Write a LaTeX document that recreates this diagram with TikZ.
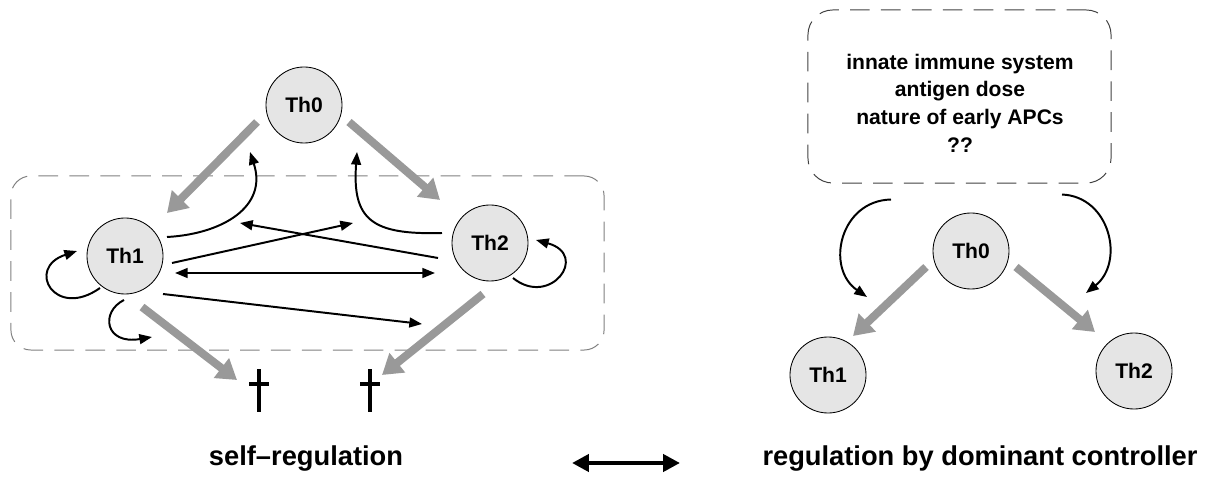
\documentclass[tikz,border=0pt]{standalone}
\usepackage{fontspec}
\setmainfont{Liberation Sans}
\usetikzlibrary{arrows.meta}
\tikzstyle{cell} = [circle, minimum size=1.9cm, inner sep=0pt, draw=black, line width=0.6pt, fill=gray!20, font=\fontsize{15}{18}\selectfont\bfseries]
\tikzstyle{region} = [rectangle, draw=gray, line width=0.7pt, dash pattern=on 14pt off 8pt]
\tikzstyle{diff} = [line width=5.7pt, draw=gray!80, -{Triangle[length=14pt,width=17pt]}]
\tikzstyle{act} = [line width=1.4pt, -{Triangle[length=9pt,width=7pt]}]
\tikzstyle{mutual} = [line width=1.4pt, {Triangle[length=9pt,width=7pt]}-{Triangle[length=9pt,width=7pt]}]
\tikzstyle{caption} = [font=\fontsize{19.4}{23}\selectfont\bfseries, anchor=base]
\tikzstyle{factors} = [font=\fontsize{15}{19.7}\selectfont\bfseries, align=center]
\tikzstyle{cross} = [line width=3.5pt]
\begin{document}
\begin{tikzpicture}[x=0.025cm, y=-0.025cm]
      \useasboundingbox (0,0) rectangle (1210,478);
      % self-regulation
      \node (selfbox)[region, rounded corners=0.5cm, minimum width=14.825cm, minimum height=4.35cm] at (307.5,263) {};
      \node (th0L)[cell] at (304,105) {Th0};
      \node (th1L)[cell] at (125,256) {Th1};
      \node (th2L)[cell] at (490,243) {Th2};
      \coordinate (dead1) at (259,389);
      \coordinate (dead2) at (370,389);
      \foreach \d in {dead1,dead2} {
        \draw[cross] ([shift={(0,-20)}]\d) -- ([shift={(0,23)}]\d);
        \draw[cross, line width=3pt] ([shift={(-10,-5)}]\d) -- ([shift={(10,-5)}]\d);
      }
      \draw[diff] ([shift={(-47,17)}]th0L.center) -- ([shift={(42,-43)}]th1L.center);
      \draw[diff] ([shift={(45,17)}]th0L.center) -- ([shift={(-50,-43)}]th2L.center);
      \draw[diff] ([shift={(17,51)}]th1L.center) -- ([shift={(-22,-9)}]dead1);
      \draw[diff] ([shift={(-7,51)}]th2L.center) -- ([shift={(12,-14)}]dead2);
      \draw[act] ([shift={(42,-19)}]th1L.center) .. controls +(55,-3) and +(18,55) .. ([shift={(-54,47)}]th0L.center);
      \draw[act] ([shift={(-48,-10)}]th2L.center) .. controls +(-70,2) and +(-5,68) .. ([shift={(53,47)}]th0L.center);
      \draw[act] ([shift={(-52,15)}]th2L.center) -- ([shift={(115,-33)}]th1L.center);
      \draw[act] ([shift={(47,7)}]th1L.center) -- ([shift={(-137,-20)}]th2L.center);
      \draw[mutual] ([shift={(50,17)}]th1L.center) -- ([shift={(-55,30)}]th2L.center);
      \draw[act] ([shift={(38,38)}]th1L.center) -- ([shift={(-68,81)}]th2L.center);
      \draw[act] ([shift={(-25,32)}]th1L.center) .. controls +(-45,32) and +(-52,17) .. ([shift={(-48,-5)}]th1L.center);
      \draw[act] ([shift={(-1,44)}]th1L.center) .. controls +(-24,12) and +(-47,8) .. ([shift={(27,81)}]th1L.center);
      \draw[act] ([shift={(23,35)}]th2L.center) .. controls +(37,30) and +(54,15) .. ([shift={(46,-3)}]th2L.center);
      \node (selfcap)[caption] at (306,465) {self–regulation};
      % comparison
      \coordinate (swapL) at (572,463);
      \coordinate (swapR) at (680,463);
      \draw[line width=3.5pt, {Triangle[length=12pt,width=12pt]}-{Triangle[length=12pt,width=12pt]}] (swapL) -- (swapR);
      % dominant controller
      \node (ctrl)[region, draw=black!75, rounded corners=0.62cm, minimum width=7.575cm, minimum height=4.325cm] at (959.5,96.5) {};
      \node (ctrltext)[factors] at (960,103) {innate immune system\\antigen dose\\nature of early APCs\\??};
      \node (th0R)[cell] at (971,251) {Th0};
      \node (th1R)[cell] at (828,375) {Th1};
      \node (th2R)[cell] at (1134,371) {Th2};
      \draw[diff] ([shift={(-45,16)}]th0R.center) -- ([shift={(25,-39)}]th1R.center);
      \draw[diff] ([shift={(45,16)}]th0R.center) -- ([shift={(-39,-39)}]th2R.center);
      \draw[act] ([shift={(-68.5,16)}]ctrl.south) .. controls +(-51,1) and +(-42,-29) .. ([shift={(39,-78)}]th1R.center);
      \draw[act] ([shift={(102.5,11)}]ctrl.south) .. controls +(48,2) and +(39,-31) .. ([shift={(-48,-78)}]th2R.center);
      \node (ctrlcap)[caption] at (980,465) {regulation by dominant controller};
    \end{tikzpicture}
\end{document}
